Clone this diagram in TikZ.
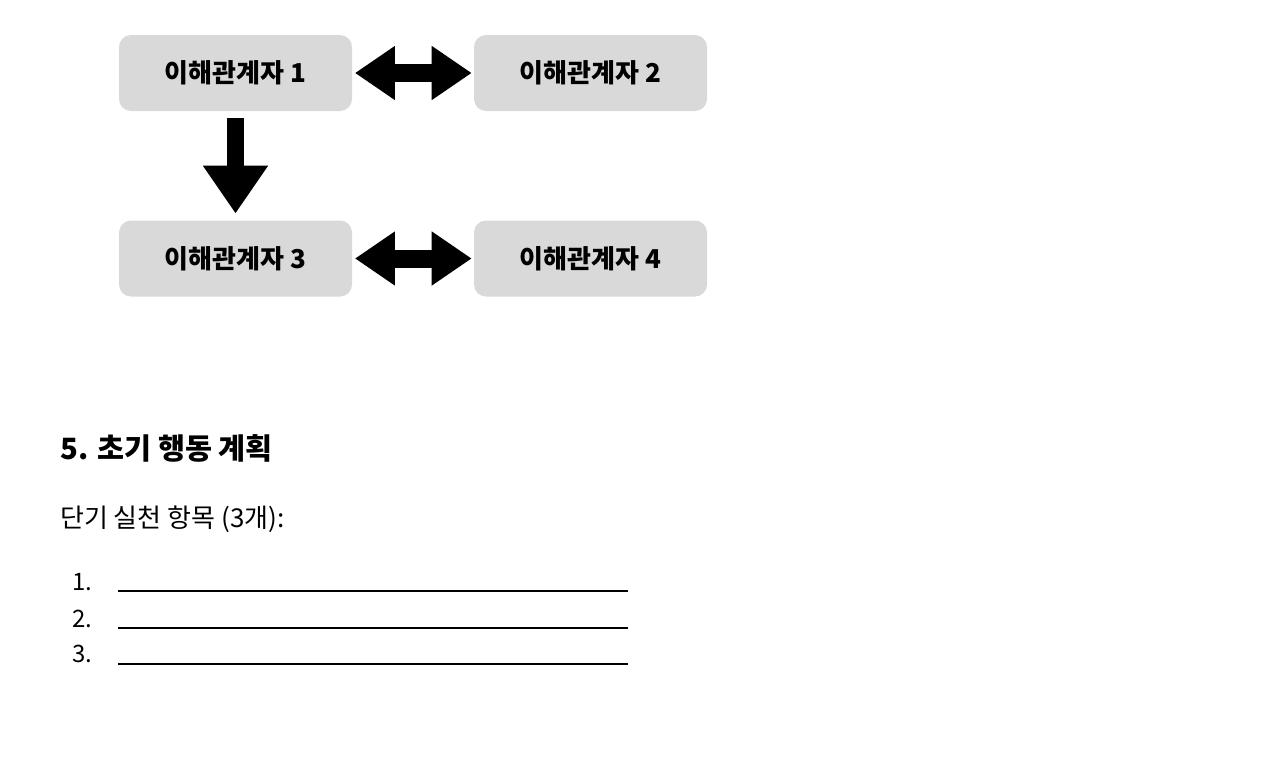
\documentclass[tikz,border=0pt]{standalone}
\usepackage{fontspec}
\setmainfont{Noto Sans CJK KR}
\usetikzlibrary{arrows.meta}
\begin{document}
\begin{tikzpicture}[x=0.75pt,y=-0.75pt,
  stakebox/.style={fill=black!15,draw=none,rounded corners=9pt,minimum width=174.75pt,minimum height=57pt,inner sep=0pt,font=\fontsize{19.5}{22}\selectfont\bfseries},
  fatdouble/.style={line width=13.5pt,{Triangle[length=30pt,width=38.5pt]}-{Triangle[length=30pt,width=38.5pt]},shorten <=2pt,shorten >=1.5pt},
  fatdown/.style={line width=12.75pt,-{Triangle[length=36pt,width=46.5pt]},shorten <=5pt,shorten >=5pt},
  blank/.style={line width=1.6pt},
  numlabel/.style={anchor=base west,inner sep=0pt,font=\fontsize{18}{21}\selectfont}]
\useasboundingbox (0,0) rectangle (1280,771);
\node[stakebox] (b1) at (235.5,73) {이해관계자 1};
\node[stakebox] (b2) at (590.5,73) {이해관계자 2};
\node[stakebox] (b3) at (235.5,258.5) {이해관계자 3};
\node[stakebox] (b4) at (590.5,258.5) {이해관계자 4};
\draw[fatdouble] (b1.east) -- (b2.west);
\draw[fatdouble] (b3.east) -- (b4.west);
\draw[fatdown] (b1.south) -- (b3.north);
\node[anchor=base west,inner sep=0pt,font=\fontsize{22}{26}\selectfont\bfseries] (h) at (60,459) {5. 초기 행동 계획};
\node[anchor=base west,inner sep=0pt,font=\fontsize{19.5}{23}\selectfont] (s) at (60,527) {단기 실천 항목 (3개):};
\node[numlabel] (n1) at (72,590) {1.};
\node[numlabel] (n2) at (72,627) {2.};
\node[numlabel] (n3) at (72,662) {3.};
\coordinate (l1a) at (118,591); \coordinate (l1b) at (628,591);
\coordinate (l2a) at (118,628); \coordinate (l2b) at (628,628);
\coordinate (l3a) at (118,664); \coordinate (l3b) at (628,664);
\draw[blank] (l1a) -- (l1b);
\draw[blank] (l2a) -- (l2b);
\draw[blank] (l3a) -- (l3b);
\end{tikzpicture}
\end{document}
